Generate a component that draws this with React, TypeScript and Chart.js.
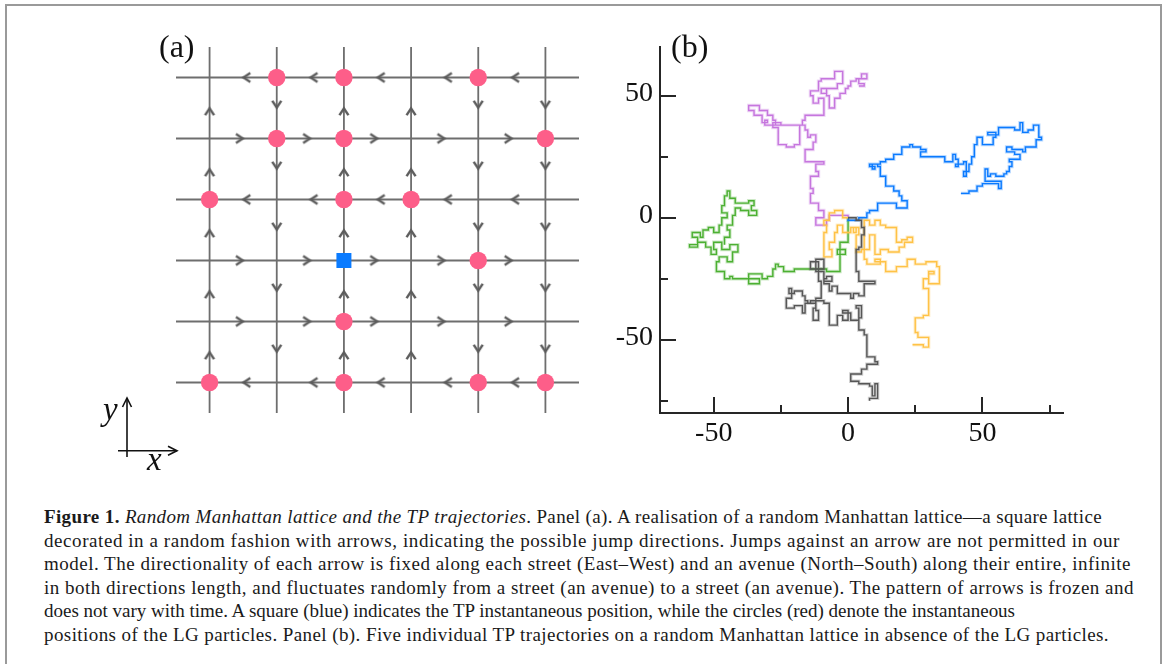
import React, { useEffect, useLayoutEffect, useRef } from 'react';
import { Chart, registerables } from 'chart.js';

Chart.register(...registerables);

// ---------- Panel (a): random Manhattan lattice ----------
const streetDirs = ['W', 'E', 'W', 'E', 'E', 'W']; // rows, top to bottom
const avenueDirs = ['N', 'S', 'N', 'N', 'S', 'S']; // columns, left to right
const lgParticles: number[][] = [
  [1, 0], [2, 0], [4, 0],
  [1, 1], [2, 1], [5, 1],
  [0, 2], [2, 2], [3, 2],
  [4, 3],
  [2, 4],
  [0, 5], [2, 5], [4, 5], [5, 5],
];
const tracerPos: number[][] = [[2, 3]];
const latticeN = 6;

// ---------- Panel (b): five TP trajectories ----------
const walkPurple: number[][] = [
  [0, 0], [0, 1], [-7, 1], [-7, -1], [-8, -1], [-8, -3], [-12, -3], [-12, 0], [-9, 0], [-9, 3], [-11, 3], [-11, 6],
  [-14, 6], [-14, 10], [-13, 10], [-13, 12], [-14, 12], [-14, 17], [-11, 17], [-11, 19], [-12, 19], [-12, 22], [-9, 22],
  [-9, 23], [-16, 23], [-16, 28], [-13, 28], [-13, 31], [-12, 31], [-12, 34], [-14, 34], [-14, 33], [-15, 33], [-15, 36],
  [-16, 36], [-16, 38], [-18, 38], [-18, 30], [-20, 30], [-20, 29], [-23, 29], [-23, 30], [-26, 30], [-26, 37], [-28, 37],
  [-28, 39], [-25, 39], [-25, 38], [-31, 38], [-31, 40], [-30, 40], [-30, 39], [-32, 39], [-32, 42], [-35, 42], [-35, 44],
  [-37, 44], [-37, 46], [-33, 46], [-33, 44], [-30, 44], [-30, 42], [-28, 42], [-28, 40], [-27, 40], [-27, 38], [-17, 38],
  [-17, 40], [-16, 40], [-16, 42], [-9, 42], [-9, 45], [-9, 49], [-11, 49], [-11, 47], [-13, 47], [-13, 50], [-14, 50],
  [-14, 52], [-11, 52], [-11, 56], [-10, 56], [-10, 57], [-5, 57], [-5, 60], [-2, 60], [-2, 55], [-4, 55], [-4, 53],
  [-8, 53], [-8, 51], [-10, 51], [-10, 53], [-8, 53], [-8, 50], [-7, 50], [-7, 45], [-5, 45], [-5, 49], [-3, 49], [-3, 51],
  [-1, 51], [-1, 53], [0, 53], [0, 54], [1, 54], [1, 56], [3, 56], [3, 57], [5, 57], [5, 59], [7, 59], [7, 57], [4, 57],
  [4, 55], [6, 55], [6, 54], [4, 54],
];
const walkBlue: number[][] = [
  [0, 0], [0, -1], [4, -1], [4, 0], [7, 0], [7, 2], [8, 2], [8, 3], [11, 3], [11, 6], [18, 6], [18, 4], [22, 4], [22, 7],
  [20, 7], [20, 9], [19, 9], [19, 11], [17, 11], [17, 13], [14, 13], [14, 17], [12, 17], [12, 21], [11, 21], [11, 22],
  [8, 22], [8, 21], [10, 21], [10, 20], [9, 20], [9, 22], [12, 22], [12, 23], [14, 23], [14, 24], [17, 24], [17, 26],
  [20, 26], [20, 29], [23, 29], [23, 30], [24, 30], [24, 29], [27, 29], [27, 28], [29, 28], [29, 27], [27, 27], [27, 25],
  [36, 25], [36, 23], [39, 23], [39, 26], [40, 26], [40, 24], [41, 24], [41, 21], [40, 21], [40, 22], [43, 22], [43, 23],
  [44, 23], [44, 17], [43, 17], [43, 19], [45, 19], [45, 22], [46, 22], [46, 25], [47, 25], [47, 30], [48, 30], [48, 33],
  [50, 33], [50, 30], [54, 30], [54, 33], [55, 33], [55, 35], [52, 35], [52, 34], [56, 34], [56, 37], [62, 37], [62, 36],
  [64, 36], [64, 39], [65, 39], [65, 35], [67, 35], [67, 36], [69, 36], [69, 38], [71, 38], [71, 33], [72, 33], [72, 32],
  [70, 32], [70, 29], [66, 29], [66, 27], [65, 27], [65, 28], [61, 28], [61, 29], [59, 29], [59, 27], [62, 27], [62, 26],
  [64, 26], [64, 24], [60, 24], [60, 23], [61, 23], [61, 21], [60, 21], [60, 19], [59, 19], [59, 18], [58, 18], [58, 17],
  [55, 17], [55, 18], [53, 18], [53, 17], [52, 17], [52, 20], [51, 20], [51, 15], [57, 15], [57, 12], [56, 12], [56, 14],
  [50, 14], [50, 13], [48, 13], [48, 11], [45, 11], [45, 10], [42, 10],
];
const walkGreen: number[][] = [
  [0, 0], [0, -10], [-3, -10], [-3, -13], [-1, -13], [-1, -15], [-4, -15], [-4, -13], [-3, -13], [-3, -22], [-8, -22],
  [-8, -21], [-20, -21], [-20, -22], [-24, -22], [-24, -20], [-26, -20], [-26, -19], [-27, -19], [-27, -21], [-28, -21],
  [-28, -24], [-30, -24], [-30, -25], [-32, -25], [-32, -23], [-37, -23], [-37, -27], [-33, -27], [-33, -25], [-43, -25],
  [-43, -24], [-44, -24], [-44, -25], [-46, -25], [-46, -22], [-49, -22], [-49, -18], [-48, -18], [-48, -16], [-45, -16],
  [-45, -18], [-43, -18], [-43, -14], [-41, -14], [-41, -11], [-44, -11], [-44, -13], [-47, -13], [-47, -10], [-50, -10],
  [-50, -13], [-49, -13], [-49, -15], [-51, -15], [-51, -12], [-53, -12], [-53, -10], [-56, -10], [-56, -11], [-59, -11],
  [-59, -12], [-56, -12], [-56, -8], [-58, -8], [-58, -6], [-55, -6], [-55, -8], [-54, -8], [-54, -5], [-52, -5],
  [-52, -4], [-50, -4], [-50, -6], [-48, -6], [-48, -3], [-47, -3], [-47, 0], [-45, 0], [-45, 2], [-47, 2], [-47, 5],
  [-46, 5], [-46, 9], [-45, 9], [-45, 11], [-44, 11], [-44, 8], [-42, 8], [-42, 6], [-37, 6], [-37, 7], [-35, 7],
  [-35, 5], [-36, 5], [-36, 3], [-34, 3], [-34, 1], [-37, 1], [-37, 3], [-40, 3], [-40, 4], [-42, 4], [-42, 1], [-43, 1],
  [-43, -3], [-45, -3], [-45, -5], [-44, -5], [-44, -8], [-46, -8], [-46, -11],
];
const walkYellow: number[][] = [
  [0, 0], [-2, 0], [-2, 3], [-5, 3], [-5, 2], [-7, 2], [-7, -1], [-9, -1], [-9, -3], [-8, -3], [-8, -6], [-9, -6],
  [-9, -16], [-6, -16], [-6, -13], [-7, -13], [-7, -10], [-5, -10], [-5, -6], [-4, -6], [-4, -3], [-2, -3], [-2, -6],
  [1, -6], [1, -4], [3, -4], [3, -6], [2, -6], [2, -4], [4, -4], [4, -7], [3, -7], [3, -14], [5, -14], [5, -13], [6, -13],
  [6, -1], [8, -1], [8, -3], [10, -3], [10, -1], [12, -1], [12, -3], [14, -3], [14, -4], [18, -4], [18, -10], [20, -10],
  [20, -9], [22, -9], [22, -8], [24, -8], [24, -10], [21, -10], [21, -12], [19, -12], [19, -14], [15, -14], [15, -13],
  [12, -13], [12, -15], [10, -15], [10, -7], [8, -7], [8, -13], [6, -13], [6, -17], [7, -17], [7, -19], [12, -19],
  [12, -17], [10, -17], [10, -18], [14, -18], [14, -22], [18, -22], [18, -20], [22, -20], [22, -17], [25, -17], [25, -19],
  [29, -19], [29, -18], [33, -18], [33, -20], [34, -20], [34, -27], [30, -27], [30, -23], [32, -23], [32, -22], [30, -22],
  [30, -25], [28, -25], [28, -29], [30, -29], [30, -40], [28, -40], [28, -41], [25, -41], [25, -47], [26, -47], [26, -49],
  [30, -49], [30, -53], [28, -53], [28, -52], [24, -52],
];
const walkGrey: number[][] = [
  [0, 0], [3, 0], [3, -1], [5, -1], [5, -4], [6, -4], [6, -7], [5, -7], [5, -12], [4, -12], [4, -13], [3, -13], [3, -22],
  [4, -22], [4, -26], [10, -26], [10, -27], [6, -27], [6, -32], [4, -32], [4, -31], [2, -31], [2, -33], [1, -33], [1, -31],
  [-4, -31], [-4, -28], [-6, -28], [-6, -30], [-7, -30], [-7, -27], [-9, -27], [-9, -25], [-8, -25], [-8, -24], [-6, -24],
  [-6, -26], [-9, -26], [-9, -22], [-11, -22], [-11, -18], [-14, -18], [-14, -21], [-9, -21], [-9, -17], [-12, -17],
  [-12, -22], [-11, -22], [-11, -26], [-10, -26], [-10, -33], [-12, -33], [-12, -37], [-13, -37], [-13, -42], [-11, -42],
  [-11, -38], [-12, -38], [-12, -35], [-15, -35], [-15, -34], [-16, -34], [-16, -32], [-17, -32], [-17, -30], [-20, -30],
  [-20, -31], [-22, -31], [-22, -29], [-21, -29], [-21, -33], [-23, -33], [-23, -37], [-20, -37], [-20, -36], [-17, -36],
  [-17, -39], [-16, -39], [-16, -35], [-14, -35], [-14, -34], [-9, -34], [-9, -35], [-7, -35], [-7, -44], [-4, -44],
  [-4, -40], [-2, -40], [-2, -42], [0, -42], [0, -38], [-2, -38], [-2, -39], [1, -39], [1, -42], [4, -42], [4, -37],
  [3, -37], [3, -36], [5, -36], [5, -41], [4, -41], [4, -46], [6, -46], [6, -48], [7, -48], [7, -57], [10, -57],
  [10, -59], [11, -59], [11, -60], [7, -60], [7, -62], [5, -62], [5, -64], [1, -64], [1, -67], [4, -67], [4, -68],
  [8, -68], [8, -69], [9, -69], [9, -73], [10, -73], [10, -68], [11, -68], [11, -74], [8, -74], [8, -75],
];
const xRangeB = [-70, 80];
const yRangeB = [-80, 70];
const xTickValues = [-50, -25, 0, 25, 50, 75];
const yTickValues = [-75, -50, -25, 0, 25, 50];

// ---------- Caption ----------
const captionBold = 'Figure 1.';
const captionItalic = 'Random Manhattan lattice and the TP trajectories';
const captionLines = [
  '. Panel (a). A realisation of a random Manhattan lattice\u2014a square lattice',
  'decorated in a random fashion with arrows, indicating the possible jump directions. Jumps against an arrow are not permitted in our',
  'model. The directionality of each arrow is fixed along each street (East\u2013West) and an avenue (North\u2013South) along their entire, infinite',
  'in both directions length, and fluctuates randomly from a street (an avenue) to a street (an avenue). The pattern of arrows is frozen and',
  'does not vary with time. A square (blue) indicates the TP instantaneous position, while the circles (red) denote the instantaneous',
  'positions of the LG particles. Panel (b). Five individual TP trajectories on a random Manhattan lattice in absence of the LG particles.',
];
const captionLineEnds = [1102, 1120, 1131, 1134, 1015, 1109];

const SERIF = '"Liberation Serif", "DejaVu Serif", serif';
const latticeColor = '#6e6e6e';
const arrowColor = '#5c5c5c';
const axisColor = '#262626';

function PanelA() {
  const ref = useRef<HTMLCanvasElement>(null);
  useEffect(() => {
    const chevron = document.createElement('canvas');
    chevron.width = 26;
    chevron.height = 26;
    const g = chevron.getContext('2d')!;
    g.strokeStyle = arrowColor;
    g.lineWidth = 2.4;
    g.lineJoin = 'miter';
    g.beginPath();
    g.moveTo(5.8, 8.6);
    g.lineTo(12.6, 13);
    g.lineTo(5.8, 17.4);
    g.stroke();

    const rot: Record<string, number> = { E: 0, S: 90, W: 180, N: 270 };
    const arrowPts: { x: number; y: number }[] = [];
    const arrowRot: number[] = [];
    streetDirs.forEach((d, r) => {
      for (let c = 0; c < latticeN - 1; c++) {
        arrowPts.push({ x: c + 0.5, y: r });
        arrowRot.push(rot[d]);
      }
    });
    avenueDirs.forEach((d, c) => {
      for (let r = 0; r < latticeN - 1; r++) {
        arrowPts.push({ x: c, y: r + 0.5 });
        arrowRot.push(rot[d]);
      }
    });

    const lines: any[] = [];
    for (let i = 0; i < latticeN; i++) {
      lines.push({
        data: [{ x: -0.5, y: i }, { x: latticeN - 0.5, y: i }],
        showLine: true, borderColor: latticeColor, borderWidth: 1.8, pointRadius: 0, order: 10,
      });
      lines.push({
        data: [{ x: i, y: -0.5 }, { x: i, y: latticeN - 0.5 }],
        showLine: true, borderColor: latticeColor, borderWidth: 1.8, pointRadius: 0, order: 10,
      });
    }

    const chart = new Chart(ref.current!, {
      type: 'scatter',
      data: {
        datasets: [
          ...lines,
          {
            data: arrowPts,
            pointStyle: chevron as any,
            pointRadius: 5,
            pointRotation: (ctx: any) => arrowRot[ctx.dataIndex] ?? 0,
            order: 5,
          },
          {
            data: lgParticles.map(([x, y]) => ({ x, y })),
            pointStyle: 'circle',
            pointRadius: 8.7,
            pointBackgroundColor: '#fd5e89',
            pointBorderWidth: 0,
            order: 2,
          },
          {
            data: tracerPos.map(([x, y]) => ({ x, y })),
            pointStyle: 'rect',
            pointRadius: 10.6,
            pointBackgroundColor: '#0a7bff',
            pointBorderWidth: 0,
            order: 1,
          },
        ],
      },
      options: {
        responsive: false,
        animation: false,
        events: [],
        layout: { padding: { left: 26, right: 21, top: 17, bottom: 27 } },
        plugins: { legend: { display: false }, tooltip: { enabled: false } },
        scales: {
          x: { type: 'linear', min: -0.5, max: latticeN - 0.5, display: false },
          y: { type: 'linear', min: -0.5, max: latticeN - 0.5, reverse: true, display: false },
        },
      } as any,
    });
    return () => chart.destroy();
  }, []);
  return (
    <canvas ref={ref} width={450} height={410}
      style={{ position: 'absolute', left: 150, top: 30, width: 450, height: 410 }} />
  );
}

function PanelB() {
  const ref = useRef<HTMLCanvasElement>(null);
  useEffect(() => {
    const tickPlugin = {
      id: 'innerTicks',
      afterDraw(chart: any) {
        const { ctx, chartArea, scales } = chart;
        ctx.save();
        ctx.strokeStyle = axisColor;
        ctx.lineWidth = 2;
        for (const v of xTickValues) {
          const px = Math.round(scales.x.getPixelForValue(v));
          const len = v % 50 === 0 ? 16 : 8;
          ctx.beginPath();
          ctx.moveTo(px, chartArea.bottom);
          ctx.lineTo(px, chartArea.bottom - len);
          ctx.stroke();
        }
        for (const v of yTickValues) {
          const py = Math.round(scales.y.getPixelForValue(v));
          const len = v % 50 === 0 ? 16 : 8;
          ctx.beginPath();
          ctx.moveTo(chartArea.left, py);
          ctx.lineTo(chartArea.left + len, py);
          ctx.stroke();
        }
        ctx.restore();
      },
    };
    const rgba = (c: number[], a: number) => `rgba(${c[0]},${c[1]},${c[2]},${a})`;
    const walk = (pts: number[][], c: number[], order: number) => [
      {
        data: pts.map(([x, y]) => ({ x, y })),
        borderColor: rgba(c, 0.28), borderWidth: 3.4, pointRadius: 0, stepped: true, fill: false,
        order: order + 0.5,
      },
      {
        data: pts.map(([x, y]) => ({ x, y })),
        borderColor: rgba(c, 1), borderWidth: 1.4, pointRadius: 0, stepped: true, fill: false,
        order,
      },
    ];
    const tickFont = { family: SERIF, size: 28 };
    const chart = new Chart(ref.current!, {
      type: 'line',
      data: {
        datasets: [
          ...walk(walkPurple, [198, 118, 222], 5),
          ...walk(walkGreen, [76, 176, 50], 4),
          ...walk(walkBlue, [10, 122, 255], 3),
          ...walk(walkYellow, [255, 194, 70], 2),
          ...walk(walkGrey, [86, 86, 86], 1),
        ],
      },
      options: {
        responsive: false,
        animation: false,
        events: [],
        layout: { padding: { left: 0, right: 17, top: 17, bottom: 0 } },
        plugins: { legend: { display: false }, tooltip: { enabled: false } },
        scales: {
          x: {
            type: 'linear', min: xRangeB[0], max: xRangeB[1],
            grid: { display: false, drawTicks: false },
            border: { display: true, color: axisColor, width: 2 },
            afterBuildTicks: (s: any) => { s.ticks = xTickValues.map((value) => ({ value })); },
            afterFit: (s: any) => { s.height = 47; s.paddingLeft = 0; s.paddingRight = 0; },
            ticks: {
              autoSkip: false, maxRotation: 0, padding: 4, color: '#111', font: tickFont,
              callback: (v: any) => (Number(v) % 50 === 0 ? String(v) : ''),
            },
          },
          y: {
            type: 'linear', min: yRangeB[0], max: yRangeB[1],
            grid: { display: false, drawTicks: false },
            border: { display: true, color: axisColor, width: 2 },
            afterBuildTicks: (s: any) => { s.ticks = yTickValues.map((value) => ({ value })); },
            afterFit: (s: any) => { s.width = 60; s.paddingTop = 0; s.paddingBottom = 0; },
            ticks: {
              autoSkip: false, padding: 7, color: '#111', font: tickFont, labelOffset: -2,
              callback: (v: any) => (Number(v) % 50 === 0 ? String(v) : ''),
            },
          },
        },
      } as any,
      plugins: [tickPlugin],
    });
    return () => chart.destroy();
  }, []);
  return (
    <canvas ref={ref} width={480} height={430}
      style={{ position: 'absolute', left: 600, top: 30, width: 480, height: 430 }} />
  );
}

function Caption() {
  const refs = useRef<(HTMLDivElement | null)[]>([]);
  useLayoutEffect(() => {
    refs.current.forEach((el, i) => {
      if (!el) return;
      el.style.letterSpacing = '0px';
      const natural = el.getBoundingClientRect().width;
      const target = captionLineEnds[i] - 44;
      const text = el.textContent || '';
      const n = text.length;
      if (n > 1) el.style.letterSpacing = `${(target - natural) / n}px`;
    });
  }, []);
  return (
    <>
      {captionLines.map((line, i) => (
        <div key={i} ref={(el) => { refs.current[i] = el; }}
          style={{
            position: 'absolute', left: 44, top: 505 + i * 23.5, whiteSpace: 'nowrap',
            fontFamily: SERIF, fontSize: 19, lineHeight: '23.5px', color: '#1a1a1a',
          }}>
          {i === 0 ? (
            <>
              <b>{captionBold}</b> <i>{captionItalic}</i>{line}
            </>
          ) : line}
        </div>
      ))}
    </>
  );
}

export default function App() {
  return (
    <div style={{
      position: 'fixed', left: 0, top: 0, width: 1166, height: 664, overflow: 'hidden',
      background: '#fff', fontFamily: SERIF,
    }}>
      <div style={{
        position: 'absolute', left: 5, top: 4, width: 1157, height: 760,
        border: '2px solid #9a9a9a', boxSizing: 'border-box',
      }} />
      <PanelA />
      <PanelB />
      <div style={{ position: 'absolute', left: 159, top: 26, fontSize: 32, lineHeight: '40px', color: '#111' }}>(a)</div>
      <div style={{ position: 'absolute', left: 671, top: 26, fontSize: 32, lineHeight: '40px', color: '#111' }}>(b)</div>
      <svg width={200} height={120} style={{ position: 'absolute', left: 90, top: 380 }}>
        <g stroke="#111" strokeWidth={1.6} fill="none">
          <line x1={37} y1={77} x2={37} y2={18} />
          <polyline points="32.5,27 37,18 41.5,27" />
          <line x1={28} y1={70.7} x2={87} y2={70.7} />
          <polyline points="78,66.2 87,70.7 78,75.2" />
        </g>
        <text x={13} y={40} fontFamily={SERIF} fontStyle="italic" fontSize={33} fill="#111">y</text>
        <text x={57} y={90} fontFamily={SERIF} fontStyle="italic" fontSize={33} fill="#111">x</text>
      </svg>
      <Caption />
    </div>
  );
}
